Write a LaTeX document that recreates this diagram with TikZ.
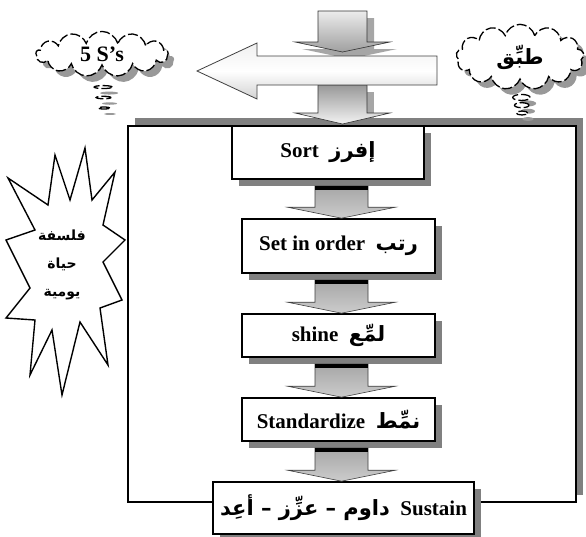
\documentclass[tikz,border=0pt]{standalone}
\usepackage{fontspec}
\setmainfont{Liberation Serif}
\newfontfamily\arabicfont[Script=Arabic]{DejaVu Sans}
\TeXXeTstate=1
\usetikzlibrary{calc}
\usetikzlibrary{shadows}
\usetikzlibrary{shapes.callouts}

\tikzset{
  stepbox/.style={draw, line width=1.6pt, fill=white, inner sep=2pt,
    font=\bfseries\fontsize{21}{24}\selectfont,
    drop shadow={shadow xshift=7pt, shadow yshift=-7pt, fill=gray, opacity=1}},
  blockarrow/.style={draw=gray!50!black, line width=0.6pt, top color=gray!70, bottom color=gray!40},
  thought/.style={cloud callout, cloud puffs=13, aspect=2.8, draw, line width=1.3pt,
    dash pattern=on 10pt off 3pt, fill=white, callout pointer segments=3,
    callout pointer start size=.16 of callout, callout pointer end size=.09 of callout,
    drop shadow={shadow xshift=6pt, shadow yshift=-6pt, fill=gray!80, opacity=1}},
  arbold/.style={font=\arabicfont\bfseries\fontsize{21}{24}\selectfont},
}

\begin{document}
\begin{tikzpicture}[x=1pt,y=-1pt]
\useasboundingbox (0,0) rectangle (586,536);

%Shape: Frame
\fill[gray] (135,118) rectangle (583,495);
\draw[line width=1.8pt, fill=white] (128,126) rectangle (576,502);

%Shape: Arrows at the top
\fill[gray!70] (325,18) -- (374,18) -- (374,49) -- (397,49) -- (349.5,59) -- (302,49) -- (325,49) -- cycle;
\draw[draw=gray!40!black, line width=0.6pt, top color=gray!15, bottom color=gray!75] (318,11) -- (367,11) -- (367,42) -- (390,42) -- (342.5,52) -- (295,42) -- (318,42) -- cycle;
\fill[gray!70] (367,92) -- (374,92) -- (374,118) -- (367,118) -- cycle;
\draw[draw=gray!40!black, line width=0.6pt, top color=gray!80, bottom color=gray!10] (318,85) -- (367,85) -- (367,113) -- (390,113) -- (342.5,124) -- (295,113) -- (318,113) -- cycle;
\draw[draw=gray!50!black, line width=0.8pt, top color=gray!12, bottom color=gray!35, middle color=white] (197,71) -- (257,43) -- (257,56) -- (437,56) -- (437,85) -- (257,85) -- (257,99) -- cycle;

% Text Node
\node[stepbox, minimum width=192pt, minimum height=53pt] (sort) at (328,152.5) {Sort\ \ {\arabicfont\beginR إفرز\endR}};
% Text Node
\node[stepbox, minimum width=193pt, minimum height=54pt] (order) at (338.5,246) {Set in order\ \ {\arabicfont\beginR رتب\endR}};
% Text Node
\node[stepbox, minimum width=193pt, minimum height=43pt] (shine) at (338.5,335.5) {shine\ \ {\arabicfont\beginR لمِّع\endR}};
% Text Node
\node[stepbox, minimum width=193pt, minimum height=43pt] (std) at (338.5,419.5) {Standardize\ \ {\arabicfont\beginR نمِّط\endR}};
% Text Node
\node[stepbox, minimum width=261pt, minimum height=52pt] (sustain) at (343.5,508) {{\arabicfont\beginR داوم – عزِّز – أعِد\endR}\ \ Sustain};

%Block arrows between the steps
\coordinate (axis) at (341.5,0);
\foreach \a/\b in {sort/order, order/shine, shine/std, std/sustain}{
  \draw[blockarrow] ($(axis |- \a.south)+(-26.5,6)$) -- ($(axis |- \a.south)+(26.5,6)$)
    -- ($(axis |- \b.north)+(26.5,-11)$) -- ($(axis |- \b.north)+(54,-11)$) -- (axis |- \b.north)
    -- ($(axis |- \b.north)+(-54,-11)$) -- ($(axis |- \b.north)+(-26.5,-11)$) -- cycle;
  \draw[line width=3.5pt] ($(axis |- \a.south)+(-26.5,8)$) -- ($(axis |- \a.south)+(26.5,8)$);
}

%Shape: Clouds
\node[thought, minimum width=132pt, minimum height=44pt, callout absolute pointer={(104,108)},
  font=\bfseries\fontsize{22}{24}\selectfont] (fives) at (102,54) {5 S’s};
\node[thought, minimum width=124pt, minimum height=46pt, callout absolute pointer={(522,113)},
  arbold] (apply) at (520,57) {\beginR طبِّق\endR};

%Shape: Explosion
\draw[line width=1.4pt, fill=white] (85,148) -- (92,200) -- (115,172) -- (103,225) -- (125,240)
  -- (103,262) -- (122,300) -- (100,308) -- (108,365) -- (80,322) -- (62,395) -- (52,330)
  -- (30,375) -- (35,320) -- (6,318) -- (30,288) -- (6,240) -- (35,230) -- (8,178)
  -- (48,205) -- (55,155) -- (70,200) -- cycle;
% Text Node
\node[align=center, font=\arabicfont\bfseries\fontsize{14}{28}\selectfont] (daily) at (62,265)
  {\beginR فلسفة\endR\\ \beginR حياة\endR\\ \beginR يومية\endR};

\end{tikzpicture}
\end{document}
